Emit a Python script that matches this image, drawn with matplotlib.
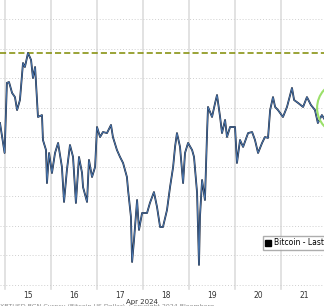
import matplotlib
matplotlib.use("Agg")
import matplotlib.pyplot as plt
from matplotlib.patches import Ellipse
from matplotlib.lines import Line2D

# hours since Apr 15 2024 00:00, Bitcoin last price (USD)
hours = [-2.6, -0.2, 1.0, 2.1, 3.7, 5.2, 6.3, 7.8, 9.4, 10.4, 12.0, 13.6, 14.6, 15.7,
         16.7, 17.2, 19.3, 19.8, 21.4, 21.9, 23.0, 24.5, 26.1, 27.7, 29.7, 30.8, 32.3,
         33.9, 35.5, 37.0, 38.6, 40.2, 40.7, 42.8, 43.8, 45.4, 47.0, 48.0, 49.6, 51.1,
         53.2, 55.3, 56.3, 58.4, 60.0, 61.6, 63.6, 64.2, 65.7, 66.3, 67.3, 68.9, 69.9,
         71.5, 74.1, 75.6, 77.7, 79.3, 80.9, 82.4, 84.5, 86.1, 87.7, 88.7, 89.7, 91.3,
         92.9, 93.9, 95.5, 97.6, 98.6, 100.2, 101.2, 101.7, 102.8, 104.3, 105.4, 105.9,
         108.0, 109.6, 110.6, 112.2, 113.2, 114.8, 115.8, 117.4, 120.0, 121.0, 122.6,
         124.2, 126.8, 128.9, 130.4, 132.0, 134.1, 135.6, 137.2, 138.3, 139.8, 140.9,
         142.4, 145.0, 147.1, 149.7, 150.8, 152.9, 155.5, 157.5, 159.6, 161.7, 163.2,
         165.3, 166.9]
price = [64490, 63475, 65850, 65880, 65510, 65370, 64930, 65270, 66525, 66390, 66865,
         66630, 66015, 66390, 65270, 64695, 64760, 63915, 63575, 62455, 63475, 62795,
         63475, 63815, 63000, 61815, 62900, 63745, 63340, 61780, 63340, 62795, 62320,
         61815, 63240, 62660, 63000, 64355, 64015, 64185, 64150, 64425, 64015, 63575,
         63340, 63135, 62660, 62220, 61305, 59780, 60525, 61880, 60865, 61440, 61440,
         61780, 62150, 61645, 60965, 60965, 61540, 62320, 63000, 63680, 64150, 63680,
         62455, 63475, 63815, 63575, 63340, 62120, 59680, 61305, 62560, 61880, 64150,
         65035, 64695, 65170, 65440, 64695, 64150, 64595, 64015, 64355, 64355, 63135,
         63915, 63680, 64150, 64185, 63915, 63475, 63815, 64015, 63985, 64930, 65370,
         65035, 64930, 64695, 65035, 65680, 65270, 65170, 65035, 65370, 65100, 64930,
         64490, 64760, 64595]

day_labels = ["15", "16", "17", "18", "19", "20", "21"]
high_line = 66865
circle_center = (174.8, 65000)

fig = plt.figure(figsize=(3.24, 3.06), dpi=100)
ax = fig.add_axes([0, 0.0556, 1, 0.9444])
ax.set_xlim(-2.6, 166.4)
ax.set_ylim(58864, 68661)

for d in range(7):
    ax.axvline(d * 24, color="#dddddd", lw=1.2, zorder=0, clip_on=False)
for p in range(59000, 69000, 1000):
    ax.axhline(p, color="#cfcfcf", lw=0.7, ls=(0, (1, 2)), zorder=0)

ax.axhline(high_line, color="#7f8a00", lw=1.1, ls=(0, (4, 2)), zorder=1)

ax.plot(hours, price, color="#1c2435", lw=1.3, zorder=2)
ax.plot(hours, price, color="#4f80bd", lw=0.6, zorder=3)

ax.add_patch(Ellipse(circle_center, 46 * 0.5217, 1700, fill=False,
                     edgecolor="#9be06a", lw=1.5, zorder=4))

ax.set_xticks([12 + 24 * i for i in range(7)])
ax.set_xticklabels(day_labels, fontsize=5.5, color="#333333")
ax.tick_params(axis="x", length=0, pad=1.5)
ax.set_yticks([])
for s in ax.spines.values():
    s.set_visible(False)

fig.text(141.5 / 324, 1 - 302 / 306, "Apr 2024", fontsize=5, color="#333333",
         ha="center", va="center")
fig.text(0.0, 1 - 304 / 306, "XBTUSD BGN Curncy (Bitcoin US Dollar)  Copyright 2024 Bloomberg",
         fontsize=4.5, color="#888888", ha="left", va="top")

handle = Line2D([], [], marker="s", color="black", ls="", markersize=4)
fig.legend([handle], ["Bitcoin - Last Price"], loc="upper left",
           bbox_to_anchor=(263 / 324, 1 - 236 / 306), fontsize=5.5,
           frameon=True, fancybox=False, edgecolor="#999999",
           handlelength=0.8, handletextpad=0.3, borderpad=0.3,
           borderaxespad=0)

fig.savefig("out.png", dpi=100)
